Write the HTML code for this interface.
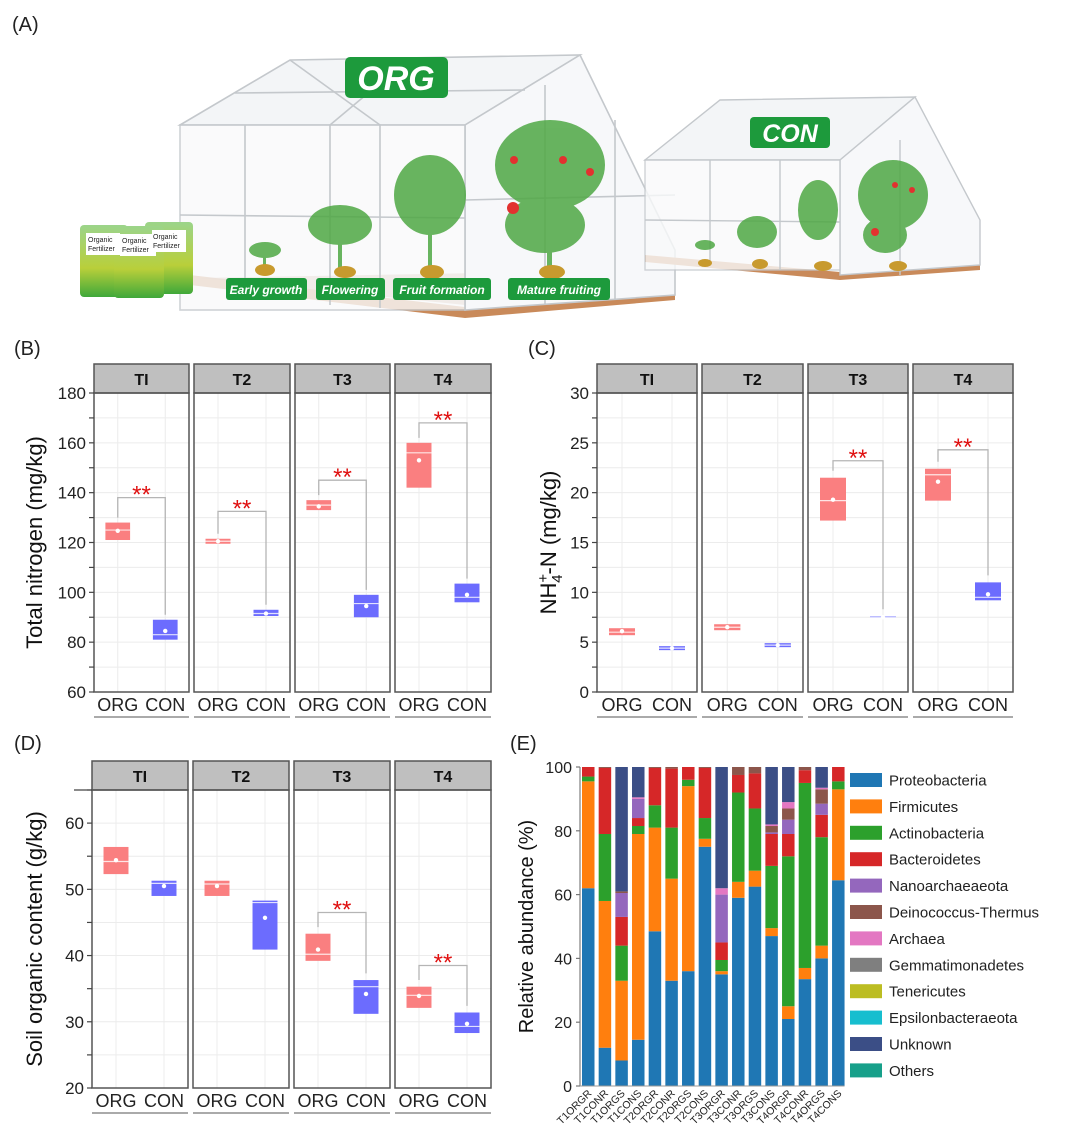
<!DOCTYPE html>
<html><head><meta charset="utf-8"><style>
body{margin:0;background:#fff}
svg{display:block;font-family:"Liberation Sans",Arial,sans-serif}
</style></head><body>
<svg id="fig" width="1080" height="1144" viewBox="0 0 1080 1144" xmlns="http://www.w3.org/2000/svg">
<g id="panelA">
  <text x="12" y="31" font-size="20" fill="#222">(A)</text>
  <g stroke="#c4c8cc" stroke-width="1.6" fill="none">
    <polygon points="190,285 465,318 675,300 675,290 465,307 190,275" fill="#c98a5a" stroke="none"/>
    <polygon points="200,278 465,305 672,290 540,272" fill="#b07a55" stroke="none" opacity="0.55"/>
    <polygon points="180,125 290,60 580,55 465,125" fill="#f3f5f7"/>
    <polygon points="465,125 580,55 675,250 675,295 465,310" fill="#f7f8fa"/>
    <rect x="180" y="125" width="285" height="185" fill="#f9fafb" opacity="0.8"/>
    <line x1="245" y1="125" x2="245" y2="300"/><line x1="330" y1="125" x2="330" y2="305"/>
    <line x1="380" y1="125" x2="380" y2="308"/><line x1="180" y1="215" x2="465" y2="218"/>
    <line x1="545" y1="85" x2="545" y2="305"/><line x1="615" y1="120" x2="615" y2="300"/>
    <line x1="465" y1="200" x2="675" y2="195"/><line x1="235" y1="93" x2="525" y2="90"/>
    <line x1="290" y1="60" x2="380" y2="125"/><line x1="410" y1="58" x2="330" y2="125"/>
  </g>
  <rect x="345" y="57" width="103" height="41" rx="5" fill="#1d9a3c"/>
  <text x="396" y="90" font-size="34" font-weight="bold" font-style="italic" fill="#fff" text-anchor="middle">ORG</text>
  <g fill="#4fa844" opacity="0.85">
    <ellipse cx="265" cy="250" rx="16" ry="8"/><rect x="263" y="250" width="3" height="18"/>
    <ellipse cx="340" cy="225" rx="32" ry="20"/><rect x="338" y="225" width="4" height="45"/>
    <ellipse cx="430" cy="195" rx="36" ry="40"/><rect x="428" y="180" width="4" height="90"/>
    <ellipse cx="550" cy="165" rx="55" ry="45"/><ellipse cx="545" cy="225" rx="40" ry="28"/><rect x="547" y="150" width="5" height="120"/>
  </g>
  <g fill="#e2312f"><circle cx="513" cy="208" r="6"/><circle cx="563" cy="160" r="4"/><circle cx="590" cy="172" r="4"/><circle cx="514" cy="160" r="4"/></g>
  <g fill="#c89a2e"><ellipse cx="265" cy="270" rx="10" ry="6"/><ellipse cx="345" cy="272" rx="11" ry="6"/><ellipse cx="432" cy="272" rx="12" ry="7"/><ellipse cx="552" cy="272" rx="13" ry="7"/></g>
  <g font-size="12" font-weight="bold" font-style="italic" fill="#fff" text-anchor="middle">
    <rect x="226" y="278" width="81" height="22" rx="3" fill="#1d9a3c"/><text x="266" y="294">Early growth</text>
    <rect x="316" y="278" width="69" height="22" rx="3" fill="#1d9a3c"/><text x="350" y="294">Flowering</text>
    <rect x="393" y="278" width="98" height="22" rx="3" fill="#1d9a3c"/><text x="442" y="294">Fruit formation</text>
    <rect x="508" y="278" width="102" height="22" rx="3" fill="#1d9a3c"/><text x="559" y="294">Mature fruiting</text>
  </g>
  <defs><linearGradient id="bag" x1="0" y1="0" x2="0" y2="1"><stop offset="0" stop-color="#9bd48a"/><stop offset="0.6" stop-color="#b9cf3a"/><stop offset="1" stop-color="#3fa83a"/></linearGradient></defs>
  <g>
    <rect x="145" y="222" width="48" height="72" rx="4" fill="url(#bag)"/>
    <rect x="80" y="225" width="48" height="72" rx="4" fill="url(#bag)"/>
    <rect x="114" y="226" width="50" height="72" rx="4" fill="url(#bag)"/>
    <g font-size="7" fill="#222"><rect x="86" y="233" width="34" height="22" fill="#fff"/><text x="88" y="242">Organic</text><text x="88" y="251">Fertilizer</text>
    <rect x="120" y="234" width="36" height="22" fill="#fff"/><text x="122" y="243">Organic</text><text x="122" y="252">Fertilizer</text>
    <rect x="152" y="230" width="34" height="22" fill="#fff"/><text x="153" y="239">Organic</text><text x="153" y="248">Fertilizer</text></g>
  </g>
  <g stroke="#c4c8cc" stroke-width="1.4" fill="none">
    <polygon points="645,262 840,280 980,270 980,262 840,272 645,255" fill="#c98a5a" stroke="none"/>
    <polygon points="645,160 720,100 915,97 840,160" fill="#f3f5f7"/>
    <polygon points="840,160 915,97 980,220 980,265 840,275" fill="#f7f8fa"/>
    <rect x="645" y="160" width="195" height="110" fill="#f9fafb" opacity="0.8"/>
    <line x1="710" y1="160" x2="710" y2="265"/><line x1="780" y1="160" x2="780" y2="270"/>
    <line x1="645" y1="220" x2="840" y2="222"/><line x1="900" y1="140" x2="900" y2="275"/>
  </g>
  <rect x="750" y="117" width="80" height="31" rx="4" fill="#1d9a3c"/>
  <text x="790" y="142" font-size="25" font-weight="bold" font-style="italic" fill="#fff" text-anchor="middle">CON</text>
  <g fill="#4fa844" opacity="0.85">
    <ellipse cx="705" cy="245" rx="10" ry="5"/><ellipse cx="757" cy="232" rx="20" ry="16"/>
    <ellipse cx="818" cy="210" rx="20" ry="30"/><ellipse cx="893" cy="195" rx="35" ry="35"/><ellipse cx="885" cy="235" rx="22" ry="18"/>
  </g>
  <g fill="#e2312f"><circle cx="875" cy="232" r="4"/><circle cx="895" cy="185" r="3"/><circle cx="912" cy="190" r="3"/></g>
  <g fill="#c89a2e"><ellipse cx="705" cy="263" rx="7" ry="4"/><ellipse cx="760" cy="264" rx="8" ry="5"/><ellipse cx="823" cy="266" rx="9" ry="5"/><ellipse cx="898" cy="266" rx="9" ry="5"/></g>
</g>
<g id="charts"></g>
</svg>
<script>
// ---- Panel B: Total nitrogen ---- rows: [low, median, high, mean]
const tnPanels = ["TI","T2","T3","T4"];
const tnOrgBox = [[121,125,128,124.7],[119.5,120.5,121.5,120.5],[133,135,137,134.5],[142,156,160,153]];
const tnConBox = [[81,83,89,84.5],[90.5,91.5,93,91.5],[90,95.5,99,94.5],[96,98,103.5,99]];
const tnBracket = [138,132.5,145,168];
const tnStars = ["**","**","**","**"];
const tnTicks = [60,80,100,120,140,160,180];
// ---- Panel C: NH4+-N ----
const nhPanels = ["TI","T2","T3","T4"];
const nhOrgBox = [[5.7,6.0,6.4,6.1],[6.2,6.5,6.8,6.5],[17.2,19.2,21.5,19.3],[19.2,21.8,22.4,21.1]];
const nhConBox = [[4.2,4.4,4.6,4.4],[4.5,4.7,4.9,4.7],[7.45,7.5,7.6,7.5],[9.2,9.5,11,9.8]];
const nhBracket = [null,null,23.2,24.3];
const nhStars = ["","","**","**"];
const nhTicks = [0,5,10,15,20,25,30];
// ---- Panel D: Soil organic content ----
const socPanels = ["TI","T2","T3","T4"];
const socOrgBox = [[52.3,54.2,56.4,54.4],[49,50.8,51.3,50.5],[39.2,40.2,43.3,40.9],[32.1,34,35.3,33.9]];
const socConBox = [[49,50.9,51.3,50.5],[40.9,48,48.3,45.7],[31.2,35.3,36.3,34.2],[28.3,29.3,31.4,29.7]];
const socBracket = [null,null,46.5,38.5];
const socStars = ["","","**","**"];
const socTicks = [20,30,40,50,60];
// ---- Panel E: relative abundance ----
const samples = ["T1ORGR","T1CONR","T1ORGS","T1CONS","T2ORGR","T2CONR","T2ORGS","T2CONS","T3ORGR","T3CONR","T3ORGS","T3CONS","T4ORGR","T4CONR","T4ORGS","T4CONS"];
const taxa = ["Proteobacteria","Firmicutes","Actinobacteria","Bacteroidetes","Nanoarchaeaeota","Deinococcus-Thermus","Archaea","Gemmatimonadetes","Tenericutes","Epsilonbacteraeota","Unknown","Others"];
const taxaColors = ["#1f77b4","#ff7f0e","#2ca02c","#d62728","#9467bd","#8c564b","#e377c2","#7f7f7f","#bcbd22","#17becf","#3b4e86","#17a08a"];
const proteo  = [62,12,8,14.5,48.5,33,36,75,35,59,62.5,47,21,33.5,40,64.5];
const firmic  = [33.5,46,25,64.5,32.5,32,58,2.5,1,5,5,2.5,4,3.5,4,28.5];
const actino  = [1.5,21,11,2.5,7,16,2,6.5,3.5,28,19.5,19.5,47,58,34,2.5];
const bactero = [3,20.7,9,2.5,11.7,18.5,4,15.7,5.5,5.5,11,10,7,4,7,4.5];
const nano    = [0,0,7.5,6,0,0,0,0,15,0,0,0.5,4.5,0,3.5,0];
const deino   = [0,0.3,0.5,0,0.3,0.5,0,0.3,0,2.5,2,2,3.5,1,4.5,0];
const archaea = [0,0,0,0.5,0,0,0,0,2,0,0,0.5,2,0,0.5,0];
const gemma   = [0,0,0,0,0,0,0,0,0,0,0,0,0,0,0,0];
const teneri  = [0,0,0,0,0,0,0,0,0,0,0,0,0,0,0,0];
const epsilon = [0,0,0,0,0,0,0,0,0,0,0,0,0,0,0,0];
const unknown = [0,0,39,9.5,0,0,0,0,38,0,0,18,11,0,6.5,0];
const others  = [0,0,0,0,0,0,0,0,0,0,0,0,0,0,0,0];
const abTicks = [0,20,40,60,80,100];

const NS="http://www.w3.org/2000/svg";
const root=document.getElementById('charts');
function mk(tag,attrs,parent){const e=document.createElementNS(NS,tag);for(const k in attrs)e.setAttribute(k,attrs[k]);(parent||root).appendChild(e);return e;}
function txt(s,attrs,parent){const e=mk('text',attrs,parent);e.textContent=s;return e;}

function facetChart(cfg){
  const g=mk('g',{});
  
  
  const y=v=>cfg.yBot-(v-cfg.dmin)/(cfg.dmax-cfg.dmin)*(cfg.yBot-cfg.yTop);
  const minorStep=cfg.minor;
  cfg.panelsX.forEach((px,i)=>{
    const [x0,x1]=px,w=x1-x0;
    const pg=mk('g',{},g);
    
    
    for(let v=cfg.dmin;v<=cfg.dmax+1e-9;v+=minorStep){
      mk('line',{x1:x0,x2:x1,y1:y(v),y2:y(v),stroke:'#ececec','stroke-width':1},pg);
    }
    const cx=[x0+w*0.25,x0+w*0.75];
    cx.forEach(c=>mk('line',{x1:c,x2:c,y1:cfg.yTop,y2:cfg.yBot,stroke:'#ececec','stroke-width':1},pg));
    const strip=mk('rect',{x:x0,y:cfg.stripTop,width:w,height:cfg.yTop-cfg.stripTop,fill:'#bfbfbf',stroke:'#555','stroke-width':1.5},pg);
    
    
    txt(cfg.panels[i],{x:x0+w/2,y:cfg.stripTop+21,'font-size':16,'font-weight':'bold','text-anchor':'middle',fill:'#111'},pg);
    const bw=w*0.26;
    [[cfg.org[i],'#fa7f80','org'],[cfg.con[i],'#6c6cfe','con']].forEach(([b,col,nm],j)=>{
      const r=mk('rect',{x:cx[j]-bw/2,y:y(b[2]),width:bw,height:Math.max(1.5,y(b[0])-y(b[2])),fill:col},pg);
      
      
      mk('line',{x1:cx[j]-bw/2,x2:cx[j]+bw/2,y1:y(b[1]),y2:y(b[1]),stroke:'#fff','stroke-width':1.2,opacity:0.8},pg);
      const d=mk('circle',{cx:cx[j],cy:y(b[3]),r:2.2,fill:'#fff'},pg);
      
      
    });
    if(cfg.bracket[i]!=null){
      const by=y(cfg.bracket[i]);
      const gap=cfg.gap;
      const p=mk('path',{d:`M${cx[0]},${y(cfg.org[i][2]+gap)} L${cx[0]},${by} L${cx[1]},${by} L${cx[1]},${y(cfg.con[i][2]+gap)}`,fill:'none',stroke:'#b5b5b5','stroke-width':1.3},pg);
      
      
      const s=txt(cfg.stars[i],{x:(cx[0]+cx[1])/2,y:by+5,'font-size':24,fill:'#e01010','text-anchor':'middle'},pg);
      
      
    }
    mk('rect',{x:x0,y:cfg.yTop,width:w,height:cfg.yBot-cfg.yTop,fill:'none',stroke:'#555','stroke-width':1.5},pg);
    ['ORG','CON'].forEach((l,j)=>{const t=txt(l,{x:cx[j],y:cfg.yBot+19,'font-size':18,'text-anchor':'middle',fill:'#222'},pg);
      
      });
    mk('line',{x1:x0,x2:x1,y1:cfg.yBot+25,y2:cfg.yBot+25,stroke:'#777','stroke-width':1.3},pg);
  });
  const ax0=cfg.panelsX[0][0];
  for(let v=cfg.dmin;v<=cfg.dmax+1e-9;v+=minorStep){
    if(y(v)<cfg.yTop-0.5) continue;
    mk('line',{x1:ax0-5,x2:ax0,y1:y(v),y2:y(v),stroke:'#444','stroke-width':1.2},g);
  }
  if(cfg.extraTopTick) mk('line',{x1:ax0-18,x2:ax0,y1:cfg.yTop,y2:cfg.yTop,stroke:'#444','stroke-width':1.2},g);
  cfg.ticks.forEach(v=>{
    const t=txt(String(v),{x:ax0-8,y:y(v)+6,'font-size':17,'text-anchor':'end',fill:'#222'},g);
    
    
  });
  const midY=(cfg.yTop+cfg.yBot)/2;
  const tt=mk('text',{x:cfg.titleX,y:midY,'font-size':22,'text-anchor':'middle',fill:'#111',transform:`rotate(-90 ${cfg.titleX} ${midY})`},g);
  
  
  if(cfg.nh){
    tt.innerHTML='NH<tspan font-size="15" dy="-8">+</tspan><tspan font-size="15" dx="-9" dy="14">4</tspan><tspan dy="-6">-N (mg/kg)</tspan>';
  } else tt.textContent=cfg.title;
  return g;
}

facetChart({name:'total-nitrogen-chart',panels:tnPanels,org:tnOrgBox,con:tnConBox,bracket:tnBracket,stars:tnStars,ticks:tnTicks,
  panelsX:[[94,189],[194,290],[295,390],[395,491]],stripTop:364,yTop:393,yBot:692,dmin:60,dmax:180,minor:10,gap:2,titleX:42,title:'Total nitrogen (mg/kg)'});
facetChart({name:'ammonium-nitrogen-chart',panels:nhPanels,org:nhOrgBox,con:nhConBox,bracket:nhBracket,stars:nhStars,ticks:nhTicks,
  panelsX:[[597,697],[702,803],[808,908],[913,1013]],stripTop:364,yTop:393,yBot:692,dmin:0,dmax:30,minor:2.5,gap:0.7,titleX:556,nh:true});
facetChart({name:'soil-organic-chart',panels:socPanels,org:socOrgBox,con:socConBox,bracket:socBracket,stars:socStars,ticks:socTicks,
  panelsX:[[92,188],[193,289],[294,390],[395,491]],stripTop:761,yTop:790,yBot:1088,dmin:20,dmax:65,minor:5,gap:1,titleX:42,title:'Soil organic content (g/kg)',extraTopTick:true});

[['(B)',14,355],['(C)',528,355],['(D)',14,750],['(E)',510,750]].forEach(([s,x,yy])=>{
  const t=txt(s,{x:x,y:yy,'font-size':20,fill:'#222'});
  
  
});

(function(){
  const g=mk('g',{});
  
  
  const series=[proteo,firmic,actino,bactero,nano,deino,archaea,gemma,teneri,epsilon,unknown,others];
  const yTop=767,yBot=1086,axX=580;
  const y=v=>yBot-v/100*(yBot-yTop);
  const x0=582,pitch=16.67,bw=12.5;
  const xb=i=>x0+i*pitch;
  samples.forEach((s,i)=>{
    let cum=0;
    series.forEach((arr,k)=>{
      const v=arr[i]; if(v<=0) return;
      const r=mk('rect',{x:xb(i),y:y(cum+v),width:bw,height:y(cum)-y(cum+v),fill:taxaColors[k]},g);
      
      
      cum+=v;
    });
    const lx=xb(i)+bw/2+4,ly=yBot+8;
    const t=txt(s,{x:lx,y:ly,'font-size':10.5,'text-anchor':'end',fill:'#222',transform:`rotate(-45 ${lx} ${ly})`},g);
    
    
  });
  mk('line',{x1:axX,x2:axX,y1:yTop,y2:yBot,stroke:'#999','stroke-width':1.5},g);
  mk('line',{x1:axX,x2:xb(samples.length-1)+bw,y1:yBot,y2:yBot,stroke:'#999','stroke-width':1},g);
  abTicks.forEach(v=>{
    mk('line',{x1:axX-4,x2:axX,y1:y(v),y2:y(v),stroke:'#777','stroke-width':1.2},g);
    const t=txt(String(v),{x:axX-8,y:y(v)+6,'font-size':16,'text-anchor':'end',fill:'#222'},g);
    
    
  });
  const tx=533,ty=(yTop+yBot)/2;
  const tt=txt('Relative abundance (%)',{x:tx,y:ty,'font-size':20,'text-anchor':'middle',fill:'#111',transform:`rotate(-90 ${tx} ${ty})`},g);
  
  
  taxa.forEach((n,k)=>{
    const ly=780+k*26.4;
    const lg=mk('g',{},g);
    
    
    mk('rect',{x:850,y:ly-7,width:32,height:14,fill:taxaColors[k]},lg);
    txt(n,{x:889,y:ly+5.5,'font-size':15,fill:'#222'},lg);
  });
})();
</script>
</body></html>
